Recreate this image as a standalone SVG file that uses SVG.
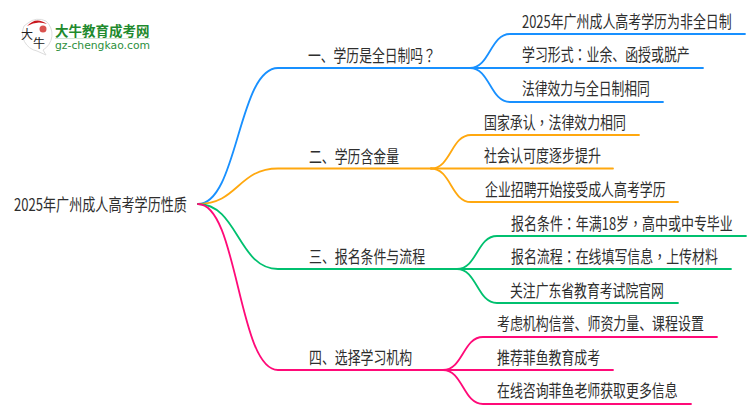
<svg xmlns="http://www.w3.org/2000/svg" width="750" height="410" viewBox="0 0 750 410">
<style>
text{font-family:"Noto Sans CJK SC","Noto Sans",sans-serif;fill:#2e2e2e;font-size:17px}
.t{font-family:"Noto Sans CJK TC",sans-serif}
.c{fill:none;stroke-width:1.8;stroke-linecap:round}
.b{stroke:#1890ff}.o{stroke:#ffa80f}.g{stroke:#00c06f}.p{stroke:#ff0a78}
</style>
<rect width="750" height="410" fill="#fff"/>
<g id="logo">
<path d="M28 23 A16.500 16.500 0 0 1 46 21 A18 18 0 0 1 43 50 L46 55 L37 51 A18 18 0 0 1 24 26Z" fill="#fff" stroke="#ddd" stroke-width="1"/>
<path d="M27 26 Q36 16 47 24 Q37 20 27 26Z" fill="#c8161d"/>
<circle cx="43" cy="29" r="3.500" fill="#d9534f"/>
<text x="21" y="39" style="font-size:12px;fill:#222">大</text>
<text x="33" y="48" style="font-size:12px;fill:#222">牛</text>
<text x="55" y="36" style="font-size:13.500px;font-weight:700;fill:#1f8a2e">大牛教育成考网</text>
<rect x="55" y="38" width="95" height="1" fill="#d5e5d5"/>
<text x="55" y="49" textLength="95" lengthAdjust="spacingAndGlyphs" style="font-size:10.500px;fill:#2c8f3c;font-family:'DejaVu Sans',sans-serif">gz-chengkao.com</text>
</g>
<g id="connectors">
<path class="c b" d="M198 204 C238 204 238 68 278 68 H470"/>
<path class="c b" d="M470 68 C490 68 490 34 510 34 H745"/>
<path class="c b" d="M470 68 H703"/>
<path class="c b" d="M470 68 C490 68 490 102 510 102 H663"/>
<path class="c o" d="M198 204 C238 204 238 168.500 278 168.500 H431"/>
<path class="c o" d="M431 168.500 C451 168.500 451 135 471 135 H639"/>
<path class="c o" d="M431 168.500 H613"/>
<path class="c o" d="M431 168.500 C451 168.500 451 202 471 202 H678"/>
<path class="c g" d="M198 204 C238 204 238 269 278 269 H457"/>
<path class="c g" d="M457 269 C477 269 477 236 497 236 H746"/>
<path class="c g" d="M457 269 H731"/>
<path class="c g" d="M457 269 C477 269 477 303 497 303 H678"/>
<path class="c p" d="M198 204 C238 204 238 370 278 370 H443"/>
<path class="c p" d="M443 370 C463 370 463 337 483 337 H717"/>
<path class="c p" d="M443 370 H613"/>
<path class="c p" d="M443 370 C463 370 463 404 483 404 H691"/>
</g>
<g id="root"><text transform="translate(14 211) scale(.77 1)">2025年广州成人高考学历性质</text></g>
<g id="n1"><text transform="translate(308 62) scale(.753 1)">一、学历是全日制吗<tspan class="t">？</tspan></text></g>
<g id="n1a"><text transform="translate(522 28) scale(.761 1)">2025年广州成人高考学历为非全日制</text></g>
<g id="n1b"><text transform="translate(522 61) scale(.76 1)">学习形式<tspan class="t">：</tspan>业余、函授或脱产</text></g>
<g id="n1c"><text transform="translate(522 95) scale(.753 1)">法律效力与全日制相同</text></g>
<g id="n2"><text transform="translate(309 163) scale(.757 1)">二、学历含金量</text></g>
<g id="n2a"><text transform="translate(484 129) scale(.76 1)">国家承认<tspan class="t">，</tspan>法律效力相同</text></g>
<g id="n2b"><text transform="translate(484 162) scale(.765 1)">社会认可度逐步提升</text></g>
<g id="n2c"><text transform="translate(485 196) scale(.76 1)">企业招聘开始接受成人高考学历</text></g>
<g id="n3"><text transform="translate(309 263) scale(.759 1)">三、报名条件与流程</text></g>
<g id="n3a"><text transform="translate(511 230) scale(.763 1)">报名条件<tspan class="t">：</tspan>年满18岁<tspan class="t">，</tspan>高中或中专毕业</text></g>
<g id="n3b"><text transform="translate(511 263) scale(.761 1)">报名流程<tspan class="t">：</tspan>在线填写信息<tspan class="t">，</tspan>上传材料</text></g>
<g id="n3c"><text transform="translate(510 297) scale(.755 1)">关注广东省教育考试院官网</text></g>
<g id="n4"><text transform="translate(309 364) scale(.758 1)">四、选择学习机构</text></g>
<g id="n4a"><text transform="translate(497 330) scale(.761 1)">考虑机构信誉、师资力量、课程设置</text></g>
<g id="n4b"><text transform="translate(497 364) scale(.758 1)">推荐菲鱼教育成考</text></g>
<g id="n4c"><text transform="translate(497 397) scale(.76 1)">在线咨询菲鱼老师获取更多信息</text></g>
</svg>
